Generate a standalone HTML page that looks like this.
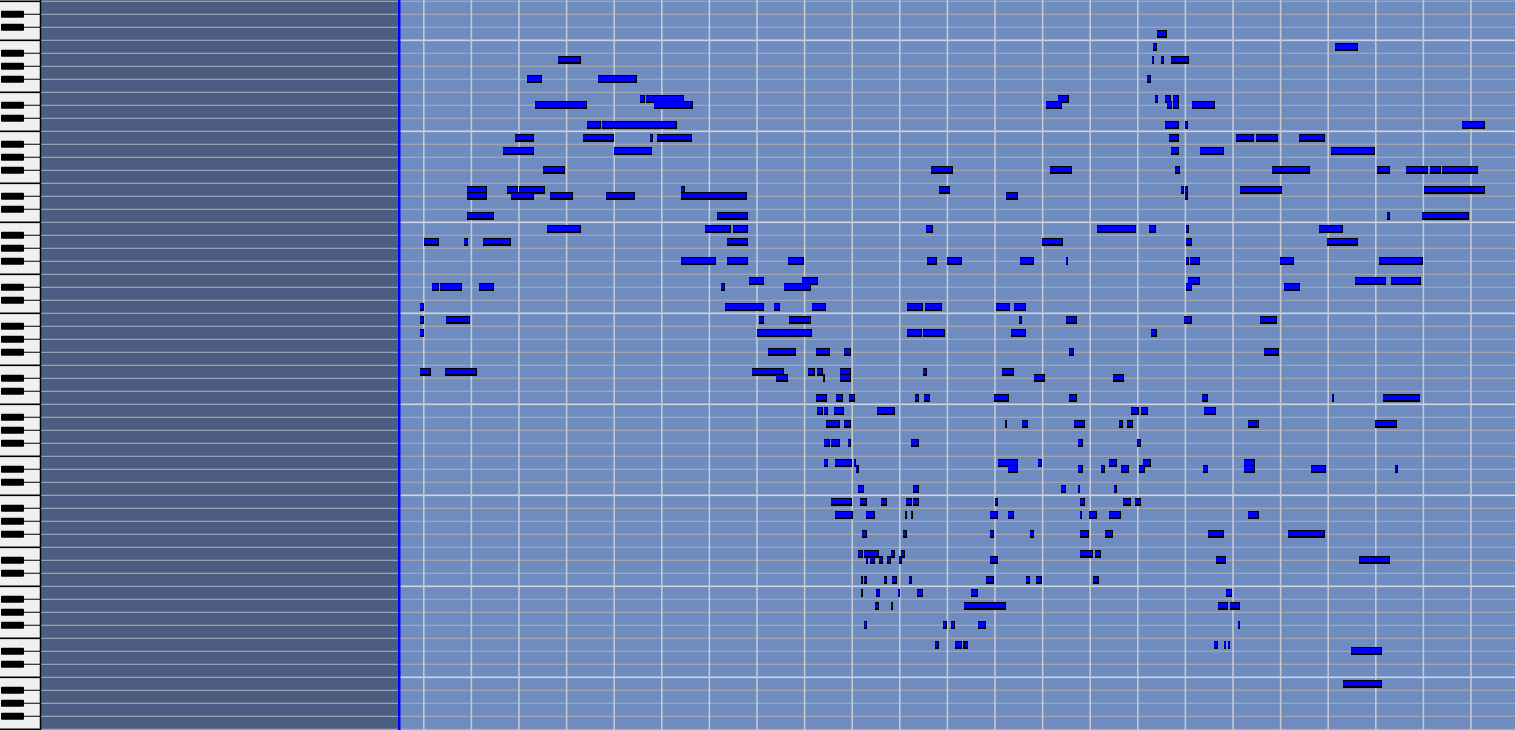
<!DOCTYPE html>
<html><head><meta charset="utf-8"><style>
html,body{margin:0;padding:0;width:1515px;height:730px;overflow:hidden;background:#6f8cc0;font-family:"Liberation Sans",sans-serif}
#root{position:relative;width:1515px;height:730px}
.note{position:absolute;height:8px;box-sizing:border-box;background:#0000ff;border-top:1px solid #000;border-bottom:2px solid #000;border-right:1px solid #000}
</style></head><body>
<div id="root">
<svg id="bg" width="1515" height="730" style="position:absolute;left:0;top:0"></svg>
<div id="notes"></div>
</div>
<script>
// note data: start tick, duration ticks, pitch
const noteStart = [763,759,943,159,758,767,777,128,200,753,242,248,663,761,771,779,136,256,651,773,779,799,189,204,771,792,1071,116,184,252,259,775,843,863,906,104,216,777,807,939,144,535,655,781,879,985,1014,1039,1051,68,108,120,283,543,788,792,847,1033,68,112,151,208,283,611,792,68,320,995,1031,148,308,336,530,703,755,793,927,24,64,84,330,647,793,935,283,330,391,531,552,625,672,793,797,887,987,352,405,795,963,999,32,40,80,324,387,793,891,20,328,377,415,511,529,601,619,20,46,362,392,624,672,791,867,20,360,511,527,616,757,371,419,448,675,871,20,45,355,411,420,444,527,607,379,426,444,639,719,419,440,453,519,528,599,675,809,940,991,420,428,438,481,737,747,811,430,448,610,627,680,725,733,855,983,428,435,452,515,684,743,428,439,458,603,643,715,749,851,460,613,684,707,727,745,810,851,919,1003,462,517,666,684,720,435,464,485,510,517,600,686,729,741,439,470,509,515,595,613,686,695,715,855,466,507,595,635,686,711,815,895,462,468,495,505,686,701,470,474,483,491,503,595,823,967,465,468,488,496,513,591,631,641,699,465,480,482,502,521,576,833,479,495,569,825,837,468,548,556,583,845,539,560,568,570,821,831,835,959,951];
const noteDur = [11,4,23,24,2,3,19,15,39,4,5,38,12,3,6,6,53,39,17,5,6,23,14,75,15,3,23,19,32,3,36,11,18,22,27,31,38,9,24,44,22,23,23,5,39,13,23,11,36,20,11,26,4,12,3,3,43,61,20,23,24,29,67,12,3,27,31,3,47,35,26,15,8,39,7,3,24,15,4,28,21,22,6,31,36,21,16,11,15,14,2,3,10,15,45,15,17,12,31,31,7,23,15,4,27,6,17,4,39,6,15,16,18,14,12,4,25,5,23,3,11,8,17,4,55,15,23,15,6,28,15,7,5,15,11,33,32,8,7,11,4,12,12,1,11,11,11,12,7,6,4,7,15,8,6,1,38,6,4,10,18,8,7,12,14,7,1,6,11,4,6,11,22,6,9,3,8,5,4,4,17,2,20,4,8,8,11,3,10,5,4,8,6,5,11,15,3,6,6,5,1,3,21,7,6,6,6,3,5,8,6,18,9,2,2,8,6,1,8,12,11,5,4,4,4,9,8,16,38,5,15,4,4,13,6,1,5,4,4,3,8,10,31,1,3,3,5,3,8,4,6,6,1,1,1,1,6,7,6,4,1,42,10,10,3,4,4,8,2,4,7,1,3,4,2,2,31,39];
const notePitch = [103,101,101,99,99,99,99,96,96,96,93,93,93,93,93,93,92,92,92,92,92,92,89,89,89,89,89,87,87,87,87,87,87,87,87,85,85,85,85,85,82,82,82,82,82,82,82,82,82,79,79,79,79,79,79,79,79,79,78,78,78,78,78,78,78,75,75,75,75,73,73,73,73,73,73,73,73,71,71,71,71,71,71,71,68,68,68,68,68,68,68,68,68,68,68,65,65,65,65,65,64,64,64,64,64,64,64,61,61,61,61,61,61,61,61,59,59,59,59,59,59,59,59,57,57,57,57,57,57,54,54,54,54,54,51,51,51,51,51,51,51,51,50,50,50,50,50,47,47,47,47,47,47,47,47,47,47,45,45,45,45,45,45,45,43,43,43,43,43,43,43,43,43,40,40,40,40,40,40,37,37,37,37,37,37,37,37,36,36,36,36,36,36,36,36,36,36,33,33,33,33,33,31,31,31,31,31,31,31,31,31,29,29,29,29,29,29,29,29,29,29,26,26,26,26,26,26,26,26,23,23,23,23,23,23,22,22,22,22,22,22,22,22,19,19,19,19,19,19,19,19,19,17,17,17,17,17,17,17,15,15,15,15,15,12,12,12,12,12,9,9,9,9,9,9,9,8,3];

const GX = 400, PX_PER_TICK = 47.6/48, ROW = 6.5, TOP_PITCH = 108;
function xScale(t){ return GX + t*PX_PER_TICK; }
function yCenter(p){ return 1.3 + (TOP_PITCH - p)*ROW; }

const NS = "http://www.w3.org/2000/svg";
const svg = document.getElementById('bg');
function mk(tag, attrs){ const e=document.createElementNS(NS,tag); for(const k in attrs) e.setAttribute(k,attrs[k]); svg.appendChild(e); return e; }

// keyboard
let e = mk('rect',{x:0,y:0,width:40,height:730,fill:'#f0f0f0'});


// left panel
e = mk('rect',{x:41,y:0,width:358,height:730,fill:'#4b5d80'});


for(let k=0;k<=56;k++){
  const y = 1.3 + 13*k;
  const m = k % 7;
  const boundary = (m===0 || m===3);
  e = mk('line',{x1:41,x2:399,y1:y,y2:y,stroke:'#a4acbc','stroke-width':1.2});
  
  
  e = mk('line',{x1:400,x2:1515,y1:y,y2:y,stroke: m===3 ? '#d2d4dc' : '#a9a9ad','stroke-width': m===3?1.6:1.2});
  
  
  if(boundary){
    e = mk('line',{x1:0,x2:40,y1:y,y2:y,stroke:'#000','stroke-width':1.6});
    
    
  } else {
    e = mk('line',{x1:20,x2:40,y1:y,y2:y,stroke:'#000','stroke-width':1});
    
    
    e = mk('rect',{x:1,y:y-3.5,width:23,height:7,fill:'#000',rx:1});
    
    
  }
}
e = mk('line',{x1:40.5,x2:40.5,y1:0,y2:730,stroke:'#000','stroke-width':1.5});


// vertical beat lines
for(let t=24; xScale(t)<1515; t+=48){
  e = mk('line',{x1:xScale(t),x2:xScale(t),y1:0,y2:730,stroke:'#c9cbd3','stroke-width':1.5});
  
  
}
e = mk('rect',{x:398,y:0,width:2.5,height:730,fill:'#0000ff'});



// notes
const holder = document.getElementById('notes');
for(let i=0;i<noteStart.length;i++){
  const d = document.createElement('div');
  d.className='note';
  
  
  const x = xScale(noteStart[i]);
  const w = Math.max(2, noteDur[i]*PX_PER_TICK);
  d.style.left = x.toFixed(1)+'px';
  d.style.width = w.toFixed(1)+'px';
  d.style.top = (yCenter(notePitch[i]) - 4).toFixed(1)+'px';
  holder.appendChild(d);
}
</script>
</body></html>
